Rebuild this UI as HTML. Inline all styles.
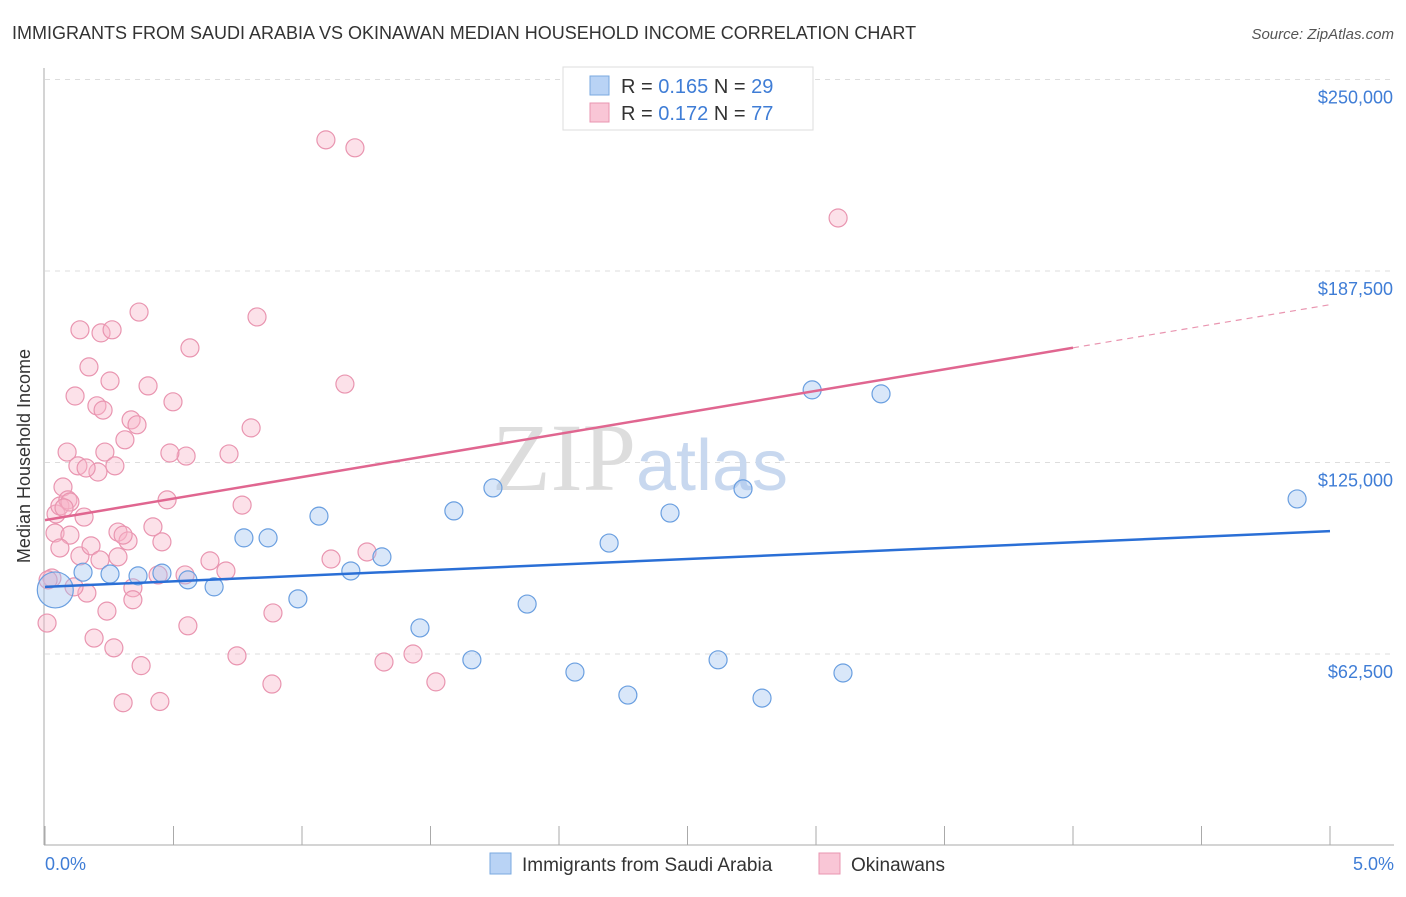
<!DOCTYPE html>
<html><head><meta charset="utf-8"><style>
body{margin:0;background:#fff;font-family:"Liberation Sans",sans-serif;}
</style></head><body>
<svg width="1406" height="892" xmlns="http://www.w3.org/2000/svg" style="font-family:'Liberation Sans',sans-serif">
<text x="12" y="39" font-size="18" fill="#333">IMMIGRANTS FROM SAUDI ARABIA VS OKINAWAN MEDIAN HOUSEHOLD INCOME CORRELATION CHART</text>
<text x="1394" y="39" font-size="15" fill="#555" font-style="italic" text-anchor="end">Source: ZipAtlas.com</text>
<g id="grid"></g>
<text x="640" y="490" font-size="96" fill="#ddd" font-family="Liberation Serif" text-anchor="middle">ZIP<tspan fill="#c8d8ef" font-family="Liberation Sans" font-size="72">atlas</tspan></text>
<line x1="44" y1="68" x2="44" y2="845" stroke="#aaa"/>
<line x1="44" y1="845" x2="1394" y2="845" stroke="#aaa"/>
<text x="30" y="456" font-size="18" fill="#333" text-anchor="middle" transform="rotate(-90 30 456)">Median Household Income</text>
<text x="45" y="870" font-size="18" fill="#3f7dd6">0.0%</text>
<text x="1394" y="870" font-size="18" fill="#3f7dd6" text-anchor="end">5.0%</text>
<g id="marks"></g>
<g>
<rect x="563" y="67" width="250" height="63" fill="#fff" stroke="#ddd"/>
<rect x="590" y="76" width="19" height="19" fill="#b9d3f5" stroke="#7aaae0"/>
<rect x="590" y="103" width="19" height="19" fill="#f9c6d6" stroke="#e995b0"/>
<text x="621" y="93" font-size="20" fill="#333">R = <tspan fill="#3f7dd6">0.165</tspan>   N = <tspan fill="#3f7dd6">29</tspan></text>
<text x="621" y="120" font-size="20" fill="#333">R = <tspan fill="#3f7dd6">0.172</tspan>   N = <tspan fill="#3f7dd6">77</tspan></text>
</g>
<g>
<rect x="490" y="853" width="21" height="21" fill="#b9d3f5" stroke="#7aaae0"/>
<text x="522" y="871" font-size="19" fill="#333">Immigrants from Saudi Arabia</text>
<rect x="819" y="853" width="21" height="21" fill="#f9c6d6" stroke="#e995b0"/>
<text x="851" y="871" font-size="19" fill="#333">Okinawans</text>
</g>
</svg>
<script>
const yTicks=[62500,125000,187500,250000];
const yTickLabels=["$62,500","$125,000","$187,500","$250,000"];
const xTicks=[0,0.5,1,1.5,2,2.5,3,3.5,4,4.5,5];
const blueX=[0.04,0.148,0.253,0.362,0.455,0.556,0.658,0.774,0.868,0.984,1.066,1.19,1.311,1.459,1.591,1.661,1.743,1.876,2.062,2.195,2.268,2.432,2.619,2.716,2.79,2.985,3.105,3.253,4.872];
const blueY=[83.4,89.2,88.6,88.0,88.9,86.7,84.4,100.4,100.4,80.5,107.5,89.6,94.2,71.0,109.2,60.6,116.7,78.8,56.6,98.7,49.1,108.5,60.6,116.4,48.1,148.7,56.3,147.4,113.1];
const pinkX=[0.043,0.058,0.070,0.089,0.097,0.074,0.086,0.117,0.136,0.171,0.202,0.218,0.226,0.261,0.253,0.233,0.272,0.206,0.128,0.160,0.039,0.097,0.152,0.058,0.136,0.179,0.214,0.284,0.323,0.311,0.335,0.358,0.366,0.401,0.498,0.564,0.825,0.549,0.486,0.420,0.455,0.284,0.475,0.767,0.802,0.716,0.642,0.704,0.545,0.440,0.342,0.342,0.163,0.113,0.027,0.241,0.191,0.268,0.556,0.374,0.304,0.447,0.747,0.887,0.883,1.113,1.167,1.253,1.319,1.432,1.521,1.093,1.206,3.086,0.008,0.012,0.304];
const pinkY=[108.2,110.8,117.0,112.8,112.1,110.2,128.4,146.7,168.3,156.2,143.5,167.3,142.1,168.3,151.6,128.4,123.9,121.9,123.9,123.2,102.0,101.3,107.2,97.1,94.5,97.8,93.2,102.3,99.4,132.4,138.9,137.3,174.1,150.0,144.8,162.4,172.5,127.1,128.1,104.0,99.1,94.2,112.8,111.1,136.3,127.8,92.9,89.6,88.3,88.3,84.1,80.2,82.4,84.4,87.3,76.5,67.7,64.5,71.7,58.7,46.6,47.0,61.9,75.9,52.7,93.5,150.6,95.8,59.9,62.5,53.4,230.3,227.7,204.8,72.6,86.7,101.3];
const blueTrend=[84.4,102.6];
const pinkTrend=[106.2,176.5];
const NS="http://www.w3.org/2000/svg";
const xs=v=>45+v/5*1285;
const ys=v=>845.5-v/62500*191.5;
const ysk=v=>ys(v*1000);
const grid=document.getElementById('grid'),marks=document.getElementById('marks');
function mk(tag,a,p){const e=document.createElementNS(NS,tag);for(const k in a)e.setAttribute(k,a[k]);p.appendChild(e);return e;}
yTicks.forEach((t,i)=>{
 const l=mk('line',{x1:45,x2:1394,y1:ys(t),y2:ys(t),stroke:'#ddd','stroke-dasharray':'5,5'},grid);
 
 
 const tx=mk('text',{x:1393,y:ys(t)+24,'font-size':18,fill:'#3f7dd6','text-anchor':'end'},grid);
 tx.textContent=yTickLabels[i];
 
 
});
xTicks.forEach(t=>{
 const l=mk('line',{x1:xs(t),x2:xs(t),y1:826,y2:845,stroke:'#aaa'},grid);
 
 
});
pinkX.forEach((x,i)=>{
 const c=mk('circle',{cx:xs(x),cy:ysk(pinkY[i]),r:9,fill:'rgba(248,180,200,0.4)',stroke:'#e995b0','stroke-width':1.2},marks);
 
 
});
blueX.forEach((x,i)=>{
 const c=mk('circle',{cx:xs(x),cy:ysk(blueY[i]),r:i==0?18:9,fill:'rgba(160,195,240,0.4)',stroke:'#6a9fe0','stroke-width':1.2},marks);
 
 
});
const bl=mk('line',{x1:xs(0),y1:ysk(blueTrend[0]),x2:xs(5),y2:ysk(blueTrend[1]),stroke:'#2a6fd6','stroke-width':2.5},marks);


const pm=pinkTrend[0]+(pinkTrend[1]-pinkTrend[0])*0.8;
const pl=mk('line',{x1:xs(0),y1:ysk(pinkTrend[0]),x2:xs(4),y2:ysk(pm),stroke:'#e06690','stroke-width':2.5},marks);


const pd=mk('line',{x1:xs(4),y1:ysk(pm),x2:xs(5),y2:ysk(pinkTrend[1]),stroke:'#e995b0','stroke-width':1.2,'stroke-dasharray':'6,5'},marks);


</script>
</body></html>
